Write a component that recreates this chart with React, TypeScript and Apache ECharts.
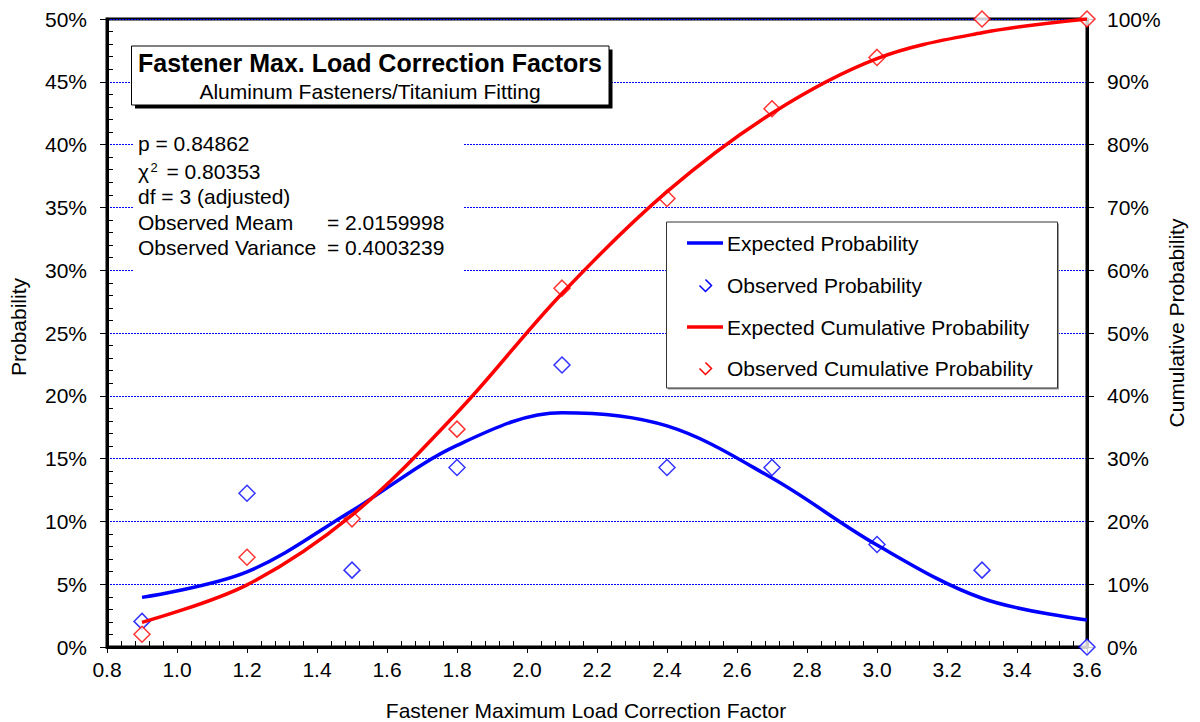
import React, { useEffect, useRef } from "react";
import * as echarts from "echarts";

// Bin centres of the load correction factor
const xValues = [0.9, 1.2, 1.5, 1.8, 2.1, 2.4, 2.7, 3.0, 3.3, 3.6];
// Probabilities in percent
const expectedProbability = [3.95, 5.98, 10.85, 16.05, 18.65, 17.6, 13.45, 8.12, 3.88, 2.15];
const observedProbability = [2.04, 12.24, 6.12, 14.29, 22.45, 14.29, 14.29, 8.16, 6.12, 0];
const expectedCumulative = [3.93, 9.9, 21.0, 37.3, 56.3, 72.5, 85.0, 93.7, 97.8, 100];
const observedCumulative = [2.04, 14.29, 20.41, 34.69, 57.14, 71.43, 85.71, 93.88, 100, 100];

const seriesNames = [
  "Expected Probability",
  "Observed Probability",
  "Expected Cumulative Probability",
  "Observed Cumulative Probability",
];
const seriesColors = ["#0000ff", "#0000ff", "#ff0000", "#ff0000"];
const seriesKinds = ["line", "marker", "line", "marker"];

const titleText = "Fastener Max. Load Correction Factors";
const subtitleText = "Aluminum Fasteners/Titanium Fitting";
const xAxisName = "Fastener Maximum Load Correction Factor";
const yAxisName = "Probability";
const y2AxisName = "Cumulative Probability";

const FONT = '"Liberation Sans", Arial, Helvetica, sans-serif';

const pair = (ys: number[]) => xValues.map((x, i) => [x, ys[i]]);

function buildGraphic() {
  const els: any[] = [];

  // Title box with a solid drop shadow
  els.push({
    type: "rect",
    z: 10,
    shape: { x: 135, y: 49.5, width: 477.5, height: 59 },
    style: { fill: "#000" },
  });
  els.push({
    type: "rect",
    z: 11,
    shape: { x: 131.5, y: 46, width: 477.5, height: 59 },
    style: { fill: "#fff", stroke: "#000", lineWidth: 1 },
  });
  els.push({
    type: "text",
    z: 12,
    x: 370,
    y: 62.5,
    style: {
      text: titleText,
      fontFamily: FONT,
      fontSize: 25,
      fontWeight: "bold",
      fill: "#000",
      align: "center",
      verticalAlign: "middle",
    },
  });
  els.push({
    type: "text",
    z: 12,
    x: 370,
    y: 91,
    style: {
      text: subtitleText,
      fontFamily: FONT,
      fontSize: 21,
      fill: "#000",
      align: "center",
      verticalAlign: "middle",
    },
  });

  // Fit statistics block on a white ground
  els.push({
    type: "rect",
    z: 10,
    shape: { x: 133, y: 122, width: 331, height: 154 },
    style: { fill: "#fff" },
  });
  const txt = (text: string, x: number, y: number, size = 21) => ({
    type: "text",
    z: 12,
    x,
    y,
    style: { text, fontFamily: FONT, fontSize: size, fill: "#000", align: "left", verticalAlign: "middle" },
  });
  els.push(txt("p = 0.84862", 138, 143));
  els.push(txt("\u03c7", 138, 171));
  els.push(txt("2", 150.5, 167, 13));
  els.push(txt("= 0.80353", 166.5, 171));
  els.push(txt("df = 3 (adjusted)", 138, 196));
  els.push(txt("Observed Meam", 138, 222));
  els.push(txt("= 2.0159998", 327, 222));
  els.push(txt("Observed Variance", 138, 247));
  els.push(txt("= 0.4003239", 327, 247));

  // Legend
  els.push({
    type: "rect",
    z: 10,
    shape: { x: 668, y: 223.5, width: 391, height: 166 },
    style: { fill: "#9a9a9a" },
  });
  els.push({
    type: "rect",
    z: 11,
    shape: { x: 666.5, y: 222, width: 391, height: 166 },
    style: { fill: "#fff", stroke: "#333", lineWidth: 1 },
  });
  const rowY = [243, 285, 327, 368];
  seriesNames.forEach((name, i) => {
    const y = rowY[i];
    if (seriesKinds[i] === "line") {
      els.push({
        type: "line",
        z: 12,
        shape: { x1: 687, y1: y, x2: 723, y2: y },
        style: { stroke: seriesColors[i], lineWidth: 3.5 },
      });
    } else {
      els.push({
        type: "polyline",
        z: 12,
        shape: {
          points: [
            [699.5, y + 0.5],
            [705.5, y + 6.5],
            [711.5, y + 0.5],
            [705.5, y - 5.5],
          ],
        },
        style: { stroke: seriesColors[i], lineWidth: 1.5, fill: "none" },
      });
    }
    els.push(txt(name, 727, y));
  });

  return els;
}

function buildOption(): any {
  return {
    animation: false,
    backgroundColor: "#fff",
    textStyle: { fontFamily: FONT },
    grid: {
      left: 107,
      right: 113,
      top: 19,
      bottom: 75,
      containLabel: false,
      outerBoundsMode: "none",
      show: true,
      borderColor: "#000",
      borderWidth: 3,
      backgroundColor: "transparent",
    },
    xAxis: {
      type: "value",
      min: 0.8,
      max: 3.6,
      interval: 0.2,
      name: xAxisName,
      nameLocation: "middle",
      nameGap: 53,
      nameMoveOverlap: false,
      nameTextStyle: { fontSize: 21, color: "#000", fontFamily: FONT, padding: [0, 22, 0, 0] },
      axisLine: { show: true, onZero: false, lineStyle: { color: "#000", width: 3 } },
      axisTick: { show: true, length: 6, lineStyle: { color: "#000", width: 1 } },
      minorTick: { show: true, splitNumber: 5, length: -6, lineStyle: { color: "#000", width: 1 } },
      axisLabel: {
        fontSize: 21,
        color: "#000",
        fontFamily: FONT,
        margin: 12,
        formatter: (v: number) => v.toFixed(1),
      },
      splitLine: { show: false },
      minorSplitLine: { show: false },
    },
    yAxis: [
      {
        type: "value",
        position: "left",
        min: 0,
        max: 50,
        interval: 5,
        name: yAxisName,
        nameLocation: "middle",
        nameRotate: 90,
        nameGap: 78,
        nameMoveOverlap: false,
        nameTextStyle: { fontSize: 21, color: "#000", fontFamily: FONT, padding: [0, 0, 0, 12] },
        axisLine: { show: true, onZero: false, lineStyle: { color: "#000", width: 3 } },
        axisTick: { show: true, length: 7, lineStyle: { color: "#000", width: 1 } },
        minorTick: { show: true, splitNumber: 5, length: -6, lineStyle: { color: "#000", width: 1 } },
        axisLabel: { fontSize: 21, color: "#000", fontFamily: FONT, margin: 20, formatter: "{value}%" },
        splitLine: { show: true, lineStyle: { color: "#0000ff", type: [2, 1], width: 1 } },
      },
      {
        type: "value",
        position: "right",
        min: 0,
        max: 100,
        interval: 10,
        name: y2AxisName,
        nameLocation: "middle",
        nameRotate: 90,
        nameGap: 79,
        nameMoveOverlap: false,
        nameTextStyle: { fontSize: 21, color: "#000", fontFamily: FONT, padding: [0, 0, 0, 20] },
        axisLine: { show: true, onZero: false, lineStyle: { color: "#000", width: 3 } },
        axisTick: { show: true, length: 7, lineStyle: { color: "#000", width: 1 } },
        axisLabel: { fontSize: 21, color: "#000", fontFamily: FONT, margin: 20, formatter: "{value}%" },
        splitLine: { show: false },
      },
    ],
    series: [
      {
        name: seriesNames[0],
        type: "line",
        yAxisIndex: 0,
        data: pair(expectedProbability),
        smooth: 0.35,
        symbol: "none",
        lineStyle: { color: seriesColors[0], width: 3.5 },
        itemStyle: { color: seriesColors[0] },
      },
      {
        name: seriesNames[1],
        type: "scatter",
        yAxisIndex: 0,
        data: pair(observedProbability),
        symbol: "diamond",
        symbolSize: 16,
        clip: false,
        itemStyle: { color: "#fff", borderColor: seriesColors[1], borderWidth: 1.5 },
      },
      {
        name: seriesNames[2],
        type: "line",
        yAxisIndex: 1,
        data: pair(expectedCumulative),
        smooth: 0.35,
        symbol: "none",
        lineStyle: { color: seriesColors[2], width: 3.5 },
        itemStyle: { color: seriesColors[2] },
      },
      {
        name: seriesNames[3],
        type: "scatter",
        yAxisIndex: 1,
        data: pair(observedCumulative),
        symbol: "diamond",
        symbolSize: 16,
        clip: false,
        itemStyle: { color: "#fff", borderColor: seriesColors[3], borderWidth: 1.5 },
      },
    ],
    graphic: buildGraphic(),
  };
}

export default function App() {
  const ref = useRef<HTMLDivElement>(null);
  useEffect(() => {
    if (!ref.current) return;
    const chart = echarts.init(ref.current, null, { renderer: "svg" });
    chart.setOption(buildOption());
    return () => chart.dispose();
  }, []);
  return (
    <div
      ref={ref}
      style={{ position: "fixed", left: 0, top: 0, width: 1200, height: 722, background: "#fff" }}
    />
  );
}
